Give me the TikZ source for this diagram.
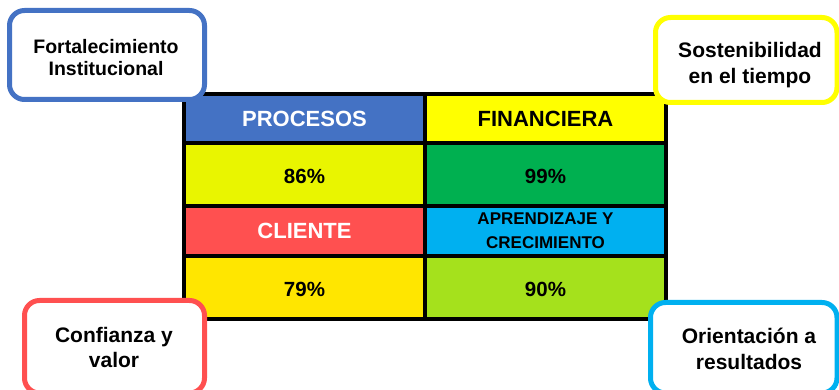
\documentclass[tikz,border=0pt]{standalone}
\usepackage{fontspec}
\setmainfont{Liberation Sans}
\definecolor{procBlue}{HTML}{4472C4}
\definecolor{finYellow}{HTML}{FFFF00}
\definecolor{cEightySix}{HTML}{E9F500}
\definecolor{cNinetyNine}{HTML}{00B050}
\definecolor{cliRed}{HTML}{FF5050}
\definecolor{aprCyan}{HTML}{00B0F0}
\definecolor{cSeventyNine}{HTML}{FFE600}
\definecolor{cNinety}{HTML}{A5E11C}
\begin{document}
\begin{tikzpicture}[x=1pt,y=-1pt,
  cell/.style={draw=black, line width=4pt, minimum width=241pt, inner sep=0pt,
    align=center, font=\bfseries\fontsize{22}{24}\selectfont},
  pct/.style={font=\bfseries\fontsize{20.5}{22}\selectfont, text height=18.5pt, text depth=0pt},
  cornerbox/.style={draw=#1, line width=5pt, fill=white, rounded corners=15pt, inner sep=0pt},
  ctext/.style={anchor=north, align=center, inner sep=0pt, font=\bfseries\fontsize{21}{26}\selectfont}]
\useasboundingbox (0,0) rectangle (839,390);
% table cells
\node[cell, fill=procBlue, text=white, minimum height=49pt] (proc) at (304.5,118.5) {PROCESOS};
\node[cell, fill=finYellow, minimum height=49pt] (fin) at (545.5,118.5) {FINANCIERA};
\node[cell, pct, fill=cEightySix, minimum height=63pt] (p86) at (304.5,174.5) {86\%};
\node[cell, pct, fill=cNinetyNine, minimum height=63pt] (p99) at (545.5,174.5) {99\%};
\node[cell, fill=cliRed, text=white, minimum height=50pt] (cli) at (304.5,231) {CLIENTE};
\node[cell, fill=aprCyan, minimum height=50pt, font=\bfseries\fontsize{17}{24}\selectfont] (apr) at (545.5,231) {APRENDIZAJE Y\\CRECIMIENTO};
\node[cell, pct, fill=cSeventyNine, minimum height=63pt] (p79) at (304.5,287.5) {79\%};
\node[cell, pct, fill=cNinety, minimum height=63pt] (p90) at (545.5,287.5) {90\%};
% corner boxes
\node[cornerbox=procBlue, minimum width=195pt, minimum height=89pt] (fort) at (107,55) {};
\node[ctext, font=\bfseries\fontsize{19.5}{22}\selectfont] (fortT) at (106,39) {Fortalecimiento\\Institucional};
\node[cornerbox=finYellow, minimum width=181.5pt, minimum height=85pt] (sost) at (746.25,60) {};
\node[ctext] (sostT) at (750,42) {Sostenibilidad\\en el tiempo};
\node[cornerbox=cliRed, minimum width=180pt, minimum height=92.5pt] (conf) at (114.5,346.75) {};
\node[ctext, font=\bfseries\fontsize{21}{25.5}\selectfont] (confT) at (114,327) {Confianza y\\valor};
\node[cornerbox=aprCyan, minimum width=186.5pt, minimum height=90.5pt] (orie) at (743.75,347.75) {};
\node[ctext] (orieT) at (749,327.5) {Orientación a\\resultados};
\end{tikzpicture}
\end{document}
